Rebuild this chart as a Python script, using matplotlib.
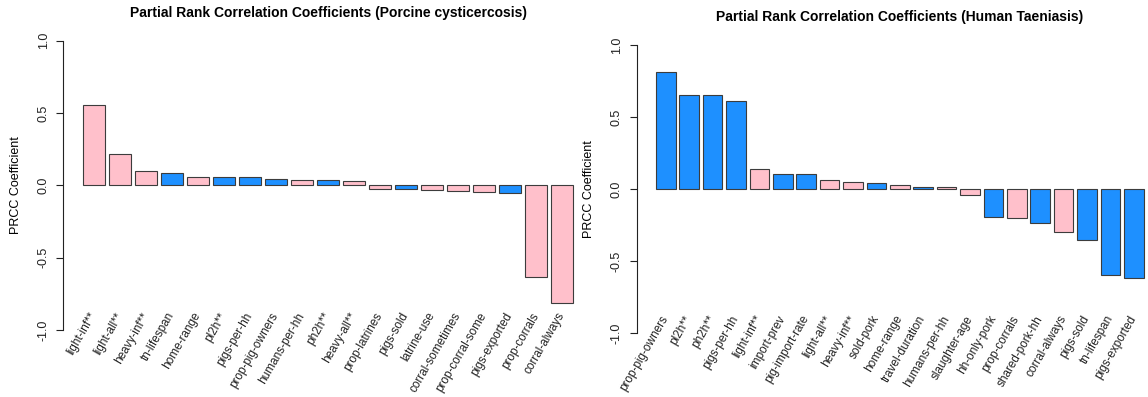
import matplotlib
matplotlib.use("Agg")
import matplotlib.pyplot as plt

plt.rcParams['font.family'] = ['Liberation Sans', 'DejaVu Sans']

PINK = '#FFC0CB'
BLUE = '#1E90FF'

# Porcine cysticercosis
pc_labels = ['light-inf**', 'light-all**', 'heavy-inf**', 'tn-lifespan', 'home-range',
             'pl2h**', 'pigs-per-hh', 'prop-pig-owners', 'humans-per-hh', 'ph2h**',
             'heavy-all**', 'prop-latrines', 'pigs-sold', 'latrine-use', 'corral-sometimes',
             'prop-corral-some', 'pigs-exported', 'prop-corrals', 'corral-always']
pc_values = [0.552, 0.214, 0.099, 0.087, 0.060, 0.058, 0.058, 0.046, 0.039, 0.039,
             0.032, -0.028, -0.028, -0.034, -0.039, -0.044, -0.050, -0.634, -0.815]
pc_colors = ['pink', 'pink', 'pink', 'blue', 'pink', 'blue', 'blue', 'blue', 'pink', 'blue',
             'pink', 'pink', 'blue', 'pink', 'pink', 'pink', 'blue', 'pink', 'pink']

# Human taeniasis
ht_labels = ['prop-pig-owners', 'pl2h**', 'ph2h**', 'pigs-per-hh', 'light-inf**',
             'import-prev', 'pig-import-rate', 'light-all**', 'heavy-inf**', 'sold-pork',
             'home-range', 'travel-duration', 'humans-per-hh', 'slaughter-age', 'hh-only-pork',
             'prop-corrals', 'shared-pork-hh', 'corral-always', 'pigs-sold', 'tn-lifespan',
             'pigs-exported']
ht_values = [0.812, 0.657, 0.657, 0.613, 0.141, 0.108, 0.108, 0.062, 0.051, 0.046,
             0.028, 0.016, 0.014, -0.044, -0.197, -0.204, -0.234, -0.300, -0.356, -0.594,
             -0.618]
ht_colors = ['blue', 'blue', 'blue', 'blue', 'pink', 'blue', 'blue', 'pink', 'pink', 'blue',
             'pink', 'blue', 'pink', 'pink', 'blue', 'pink', 'blue', 'pink', 'blue', 'blue',
             'blue']

cmap = {'pink': PINK, 'blue': BLUE}

W, H = 1148, 397
fig = plt.figure(figsize=(W / 100, H / 100), dpi=100)


def px_axes(left, top, right, bottom):
    return fig.add_axes([left / W, 1 - bottom / H, (right - left) / W, (bottom - top) / H])


def draw(ax, labels, values, colors, title, title_xy, ylab_x):
    n = len(values)
    xs = [0.2 + 1.2 * i for i in range(n)]
    ax.bar(xs, values, width=1.0, align='edge', color=[cmap[c] for c in colors],
           edgecolor='#3c3c3c', linewidth=0.8)
    span = xs[-1] + 1.0 - 0.2
    ax.set_xlim(0.2 - 0.04 * span, xs[-1] + 1.0 + 0.04 * span)
    ax.set_ylim(-1.08, 1.08)
    ax.patch.set_alpha(0)
    for s in ['top', 'right', 'bottom']:
        ax.spines[s].set_visible(False)
    ax.spines['left'].set_bounds(-1, 1)
    ax.spines['left'].set_color('#222222')
    ax.set_xticks([])
    ax.set_yticks([-1.0, -0.5, 0.0, 0.5, 1.0])
    ax.set_yticklabels(['-1.0', '-0.5', '0.0', '0.5', '1.0'], rotation=90, va='center')
    ax.tick_params(axis='y', length=5, width=0.8, pad=5, labelsize=9, colors='#222222')
    ax.set_ylabel('PRCC Coefficient', fontsize=9)
    ax.yaxis.set_label_coords(ylab_x, 0.5)
    for x, lab in zip(xs, labels):
        ax.text(x + 0.5, -0.885, lab, rotation=60, rotation_mode='anchor',
                ha='right', va='center', fontsize=8.5, color='#222222', clip_on=False)
    fig.text(title_xy[0] / W, 1 - title_xy[1] / H, title, ha='center', va='center',
             fontsize=10, fontweight='bold')


ax1 = px_axes(63.5, 29.1, 592.4, 341.6)
draw(ax1, pc_labels, pc_values, pc_colors,
     'Partial Rank Correlation Coefficients (Porcine cysticercosis)', (328, 13.3), -0.078)

ax2 = px_axes(636.5, 33.8, 1163.0, 344.5)
draw(ax2, ht_labels, ht_values, ht_colors,
     'Partial Rank Correlation Coefficients (Human Taeniasis)', (900, 17.3), -0.078)

fig.savefig('out.png', dpi=100)
